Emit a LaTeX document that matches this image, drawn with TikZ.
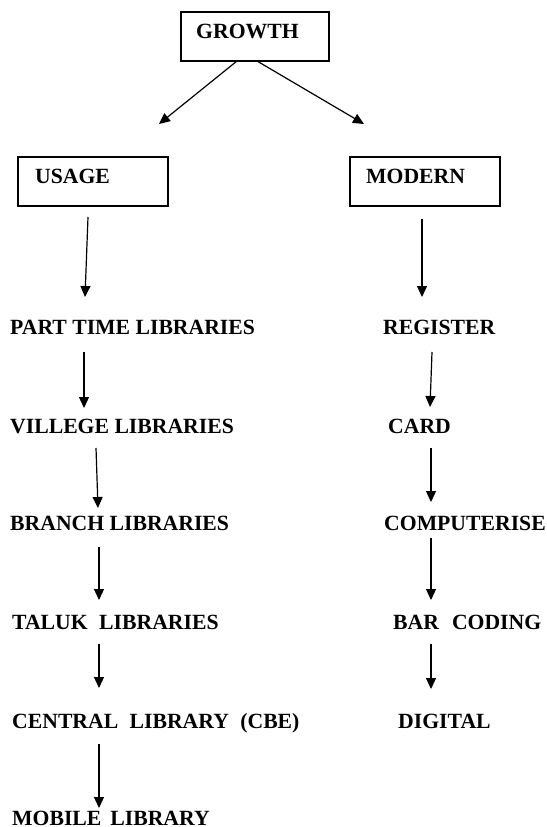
\documentclass[tikz,border=0pt]{standalone}
\usepackage{fontspec}
\setmainfont{Liberation Serif}
\usetikzlibrary{arrows.meta}
\begin{document}
\begin{tikzpicture}[x=1pt,y=-1pt,
  lbl/.style={anchor=base west,inner sep=0pt,text=black,
    font=\fontsize{21.7}{26}\selectfont\bfseries},
  box/.style={draw,line width=1.3pt,minimum height=49pt,inner sep=0pt},
  arr/.style={line width=1.2pt,-{Triangle[length=11pt,width=10pt]}}]
\useasboundingbox (0,0) rectangle (546,827);

% top box and the two category boxes
\node[box,minimum width=148pt] (growth) at (255,36.5) {};
\node[lbl] (growthlbl) at (196,38) {GROWTH};
\node[box,minimum width=150pt] (usage) at (93,181.5) {};
\node[lbl] (usagelbl) at (35,183) {USAGE};
\node[box,minimum width=150pt] (modern) at (425,181.5) {};
\node[lbl] (modernlbl) at (366,183) {MODERN};

% left column
\node[lbl] (parttime) at (10,334) {PART TIME LIBRARIES};
\node[lbl] (village)  at (10,433) {VILLEGE LIBRARIES};
\node[lbl] (branch)   at (10,530) {BRANCH LIBRARIES};
\node[lbl] (taluk)    at (12,629) {TALUK\hspace{11.5pt}LIBRARIES};
\node[lbl] (central)  at (12,728) {CENTRAL\hspace{11.4pt}LIBRARY\hspace{11.4pt}(CBE)};
\node[lbl] (mobile)   at (12,825) {MOBILE\hspace{9pt}LIBRARY};

% right column
\node[lbl] (register)    at (383,334) {REGISTER};
\node[lbl] (card)        at (388,433) {CARD};
\node[lbl] (computerise) at (384,530) {COMPUTERISE};
\node[lbl] (barcoding)   at (393,629) {BAR\hspace{13pt}CODING};
\node[lbl] (digital)     at (398,728) {DIGITAL};

% arrow end points
\coordinate (g-a) at (237,61);   \coordinate (g-b) at (159,124);
\coordinate (g-c) at (257,61);   \coordinate (g-d) at (364,124);
\coordinate (u-a) at (88,217);   \coordinate (u-b) at (85,297);
\coordinate (m-a) at (422,219);  \coordinate (m-b) at (422,297);
\coordinate (l1a) at (84,352);   \coordinate (l1b) at (84,408);
\coordinate (l2a) at (96,448);   \coordinate (l2b) at (98,508);
\coordinate (l3a) at (99,547);   \coordinate (l3b) at (99,600);
\coordinate (l4a) at (99,644);   \coordinate (l4b) at (99,688);
\coordinate (l5a) at (99,744);   \coordinate (l5b) at (99,808);
\coordinate (r1a) at (432,352);  \coordinate (r1b) at (430,407);
\coordinate (r2a) at (431,448);  \coordinate (r2b) at (431,502);
\coordinate (r3a) at (431,538);  \coordinate (r3b) at (431,600);
\coordinate (r4a) at (431,644);  \coordinate (r4b) at (431,689);

\foreach \a/\b in {g-a/g-b, g-c/g-d, u-a/u-b, m-a/m-b,
                   l1a/l1b, l2a/l2b, l3a/l3b, l4a/l4b, l5a/l5b,
                   r1a/r1b, r2a/r2b, r3a/r3b, r4a/r4b}
  \draw[arr] (\a) -- (\b);
\end{tikzpicture}
\end{document}
